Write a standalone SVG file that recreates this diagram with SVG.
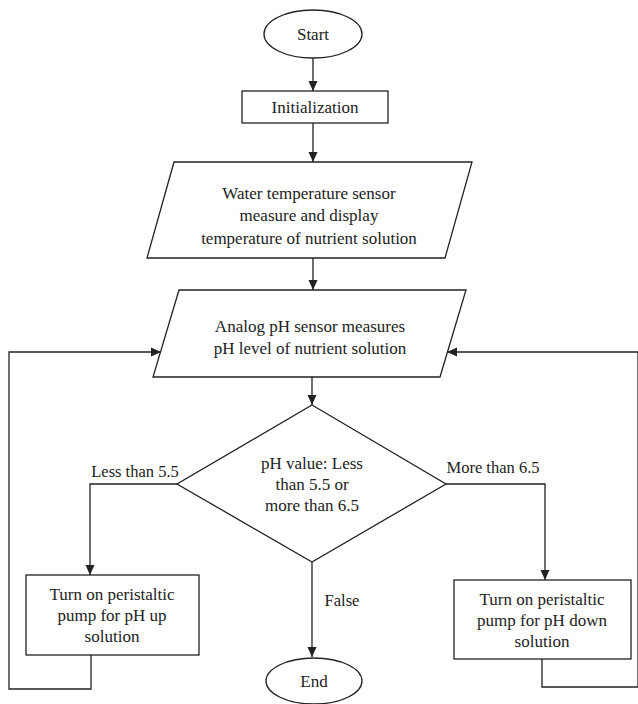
<svg xmlns="http://www.w3.org/2000/svg" width="638" height="704" viewBox="0 0 638 704" font-family="'Liberation Serif', 'DejaVu Serif', serif">
<style>
.s{fill:#fff;stroke:#222;stroke-width:1.3}
.c{fill:none;stroke:#222;stroke-width:1.3}
.t{font-family:'Liberation Serif','DejaVu Serif',serif;font-size:17px;fill:#222;text-anchor:middle;dominant-baseline:central}
.l{font-size:16.5px}
</style>
<defs>
<marker id="a" viewBox="0 0 10 10" refX="10" refY="5" markerWidth="10" markerHeight="10" markerUnits="userSpaceOnUse" orient="auto">
<path d="M0,0.5 L10,5 L0,9.5 Z" fill="#222"/>
</marker>
</defs>
<rect width="638" height="704" fill="#fff"/>
<g id="connectors">
<path class="c" d="M313,58 V91" marker-end="url(#a)"/>
<path class="c" d="M313,123 V162" marker-end="url(#a)"/>
<path class="c" d="M313,258 V290" marker-end="url(#a)"/>
<path class="c" d="M312,377 V405" marker-end="url(#a)"/>
<path class="c" d="M177,484 H90 V575" marker-end="url(#a)"/>
<path class="c" d="M446,484 H545 V580" marker-end="url(#a)"/>
<path class="c" d="M312,562 V657" marker-end="url(#a)"/>
<path class="c" d="M91,655 V689 H9 V352 H161" marker-end="url(#a)"/>
<path class="c" d="M542,659 V687 H638 V352 H447" marker-end="url(#a)"/>
<text class="t l" x="135" y="471">Less than 5.5</text>
<text class="t l" x="493" y="467">More than 6.5</text>
<text class="t l" x="342" y="600">False</text>
</g>
<g id="start">
<ellipse class="s" cx="313" cy="34" rx="49" ry="24"/>
<text class="t" x="313" y="34">Start</text>
</g>
<g id="init">
<rect class="s" x="242" y="91" width="146" height="32"/>
<text class="t" x="315" y="107">Initialization</text>
</g>
<g id="water">
<polygon class="s" points="174,162 472,162 445,258 147,258"/>
<text class="t" x="309" y="193">Water temperature sensor</text>
<text class="t" x="309" y="215">measure and display</text>
<text class="t" x="309" y="238">temperature of nutrient solution</text>
</g>
<g id="analog">
<polygon class="s" points="179,290 466,290 440,377 153,377"/>
<text class="t" x="310" y="326">Analog pH sensor measures</text>
<text class="t" x="310" y="348">pH level of nutrient solution</text>
</g>
<g id="decision">
<polygon class="s" points="312,405 446,484 312,562 177,484"/>
<text class="t" x="312" y="463">pH value: Less</text>
<text class="t" x="312" y="484">than 5.5 or</text>
<text class="t" x="312" y="505">more than 6.5</text>
</g>
<g id="phup">
<rect class="s" x="26" y="575" width="173" height="80"/>
<text class="t" x="112" y="594">Turn on peristaltic</text>
<text class="t" x="112" y="615">pump for pH up</text>
<text class="t" x="112" y="636">solution</text>
</g>
<g id="phdown">
<rect class="s" x="454" y="580" width="177" height="79"/>
<text class="t" x="542" y="599">Turn on peristaltic</text>
<text class="t" x="542" y="620">pump for pH down</text>
<text class="t" x="542" y="641">solution</text>
</g>
<g id="end">
<ellipse class="s" cx="314" cy="681" rx="48" ry="23"/>
<text class="t" x="314" y="681">End</text>
</g>
</svg>
